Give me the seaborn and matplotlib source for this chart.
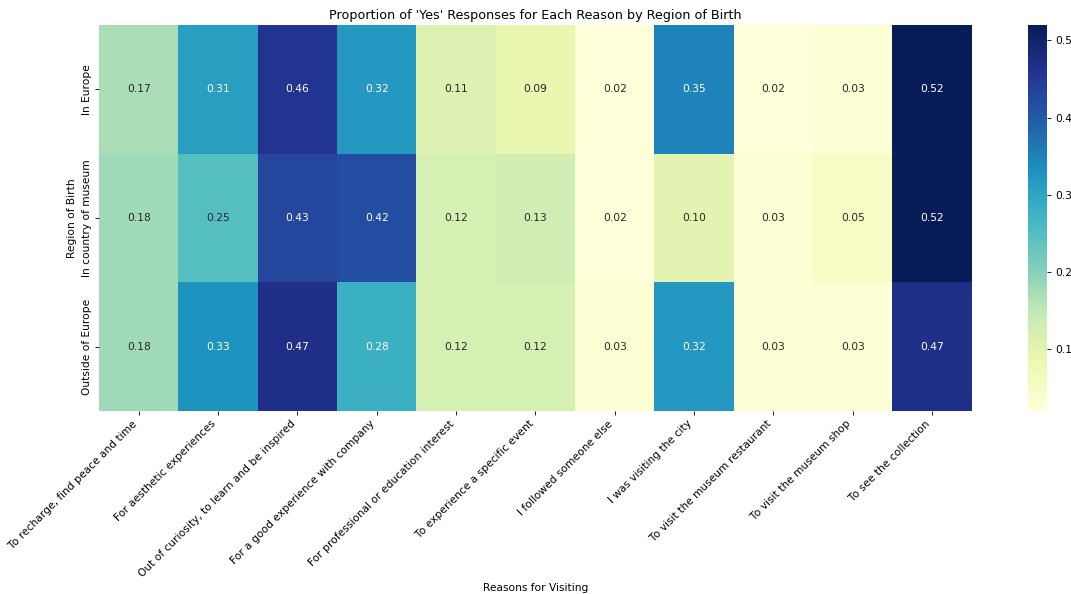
import pandas as pd
import matplotlib
matplotlib.use("Agg")
import matplotlib.pyplot as plt
import seaborn as sns

# --- data ---
reasons = [
    "To recharge, find peace and time",
    "For aesthetic experiences",
    "Out of curiosity, to learn and be inspired",
    "For a good experience with company",
    "For professional or education interest",
    "To experience a specific event",
    "I followed someone else",
    "I was visiting the city",
    "To visit the museum restaurant",
    "To visit the museum shop",
    "To see the collection",
]
regions = ["In Europe", "In country of museum", "Outside of Europe"]

in_europe = [0.17, 0.31, 0.46, 0.32, 0.11, 0.09, 0.02, 0.35, 0.02, 0.03, 0.52]
in_country = [0.18, 0.25, 0.43, 0.42, 0.12, 0.13, 0.02, 0.10, 0.03, 0.05, 0.52]
outside_europe = [0.18, 0.33, 0.47, 0.28, 0.12, 0.12, 0.03, 0.32, 0.03, 0.03, 0.47]

df = pd.DataFrame([in_europe, in_country, outside_europe], index=regions, columns=reasons)

# --- plot ---
fig = plt.figure(figsize=(14, 7.765), dpi=76.5)
ax = fig.add_axes([0.0924, 0.308, 0.815, 0.650])
cax = fig.add_axes([0.960, 0.308, 0.018, 0.650])

sns.heatmap(df, annot=True, fmt=".2f", cmap="YlGnBu", ax=ax, cbar_ax=cax)
ax.set_title("Proportion of 'Yes' Responses for Each Reason by Region of Birth")
ax.set_xlabel("Reasons for Visiting")
ax.set_ylabel("Region of Birth")
plt.setp(ax.get_xticklabels(), rotation=45, ha="right")

fig.savefig("out.png", dpi=76.5)
